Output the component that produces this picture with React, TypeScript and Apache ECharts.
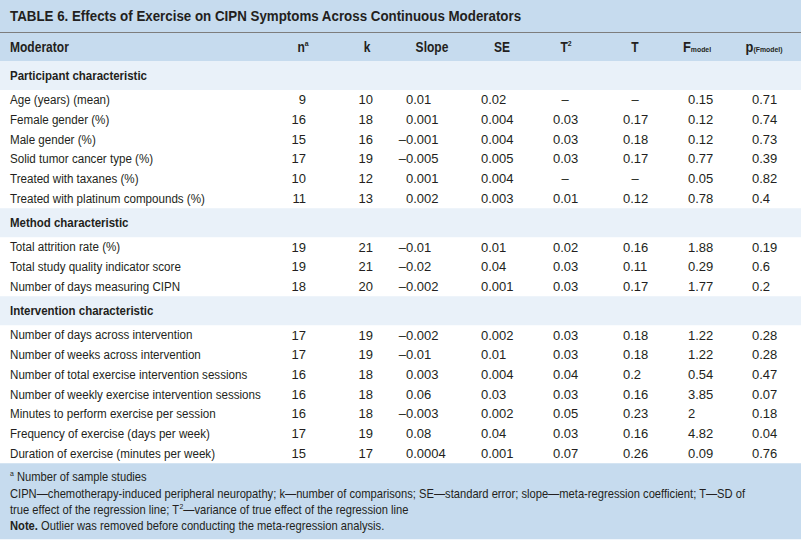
import React, { useEffect, useRef } from "react";
import * as echarts from "echarts";

const W = 801;
const H = 545;

const titleText = "TABLE 6. Effects of Exercise on CIPN Symptoms Across Continuous Moderators";
const sectionTitles = ["Participant characteristic", "Method characteristic", "Intervention characteristic"];
const sectionSizes = [6, 3, 7];
const moderators = [
  "Age (years) (mean)",
  "Female gender (%)",
  "Male gender (%)",
  "Solid tumor cancer type (%)",
  "Treated with taxanes (%)",
  "Treated with platinum compounds (%)",
  "Total attrition rate (%)",
  "Total study quality indicator score",
  "Number of days measuring CIPN",
  "Number of days across intervention",
  "Number of weeks across intervention",
  "Number of total exercise intervention sessions",
  "Number of weekly exercise intervention sessions",
  "Minutes to perform exercise per session",
  "Frequency of exercise (days per week)",
  "Duration of exercise (minutes per week)",
];
const nValues = [9, 16, 15, 17, 10, 11, 19, 19, 18, 17, 17, 16, 16, 16, 17, 15];
const kValues = [10, 18, 16, 19, 12, 13, 21, 21, 20, 19, 19, 18, 18, 18, 19, 17];
const slopeValues = ["0.01", "0.001", "–0.001", "–0.005", "0.001", "0.002", "–0.01", "–0.02", "–0.002", "–0.002", "–0.01", "0.003", "0.06", "–0.003", "0.08", "0.0004"];
const seValues = ["0.02", "0.004", "0.004", "0.005", "0.004", "0.003", "0.01", "0.04", "0.001", "0.002", "0.01", "0.004", "0.03", "0.002", "0.04", "0.001"];
const tau2Values = ["–", "0.03", "0.03", "0.03", "–", "0.01", "0.02", "0.03", "0.03", "0.03", "0.03", "0.04", "0.03", "0.05", "0.03", "0.07"];
const tauValues = ["–", "0.17", "0.18", "0.17", "–", "0.12", "0.16", "0.11", "0.17", "0.18", "0.18", "0.2", "0.16", "0.23", "0.16", "0.26"];
const fValues = ["0.15", "0.12", "0.12", "0.77", "0.05", "0.78", "1.88", "0.29", "1.77", "1.22", "1.22", "0.54", "3.85", "2", "4.82", "0.09"];
const pValues = ["0.71", "0.74", "0.73", "0.39", "0.82", "0.4", "0.19", "0.6", "0.2", "0.28", "0.28", "0.47", "0.07", "0.18", "0.04", "0.76"];
const footnotes = [
  "{sup|a} Number of sample studies",
  "CIPN—chemotherapy-induced peripheral neuropathy; k—number of comparisons; SE—standard error; slope—meta-regression coefficient; T—SD of",
  "true effect of the regression line; T{sup|2}—variance of true effect of the regression line",
  "{b|Note.} Outlier was removed before conducting the meta-regression analysis.",
];

// ---- layout / style constants ----
const FONT = '"Liberation Sans", Arial, sans-serif';
const INK = "#231f20";
const BAND = "#c6dbee";
const SECTION_BAND = "#e9f1f9";
const TITLE_H = 32;
const HEADER_TOP = 33;
const HEADER_H = 28;
const SECTION_H = 29;
const ROW_H = 19.7;
const LABEL_X = 10;
const COND = 0.86; // horizontal condensing for label text
const N_X = 306; // right aligned
const K_X = 373; // right aligned
const SLOPE_X = 406; // left aligned, minus hangs
const SE_X = 481;
const TAU2_X = 553;
const TAU_X = 623;
const F_X = 688;
const P_X = 752;
const TAU2_DASH_X = 565;
const TAU_DASH_X = 635;

type Row = { kind: "section" | "data"; idx: number; top: number; h: number };

function buildRows(): Row[] {
  const rows: Row[] = [];
  let cursor = HEADER_TOP + HEADER_H;
  let d = 0;
  sectionSizes.forEach((size, s) => {
    rows.push({ kind: "section", idx: s, top: cursor, h: SECTION_H });
    cursor += SECTION_H;
    for (let j = 0; j < size; j++) {
      rows.push({ kind: "data", idx: d++, top: cursor, h: ROW_H });
      cursor += ROW_H;
    }
  });
  return rows;
}

function txt(text: string, x: number, y: number, align: string, size: number, weight: string = "normal", sx: number = 1, rich?: any) {
  const style: any = {
    text,
    x: 0,
    y: 0,
    align,
    verticalAlign: "middle",
    fill: INK,
    fontFamily: FONT,
    fontSize: size,
    fontWeight: weight,
  };
  if (rich) style.rich = rich;
  return { type: "text", x, y, scaleX: sx, scaleY: 1, style };
}

export default function App() {
  const ref = useRef<HTMLDivElement | null>(null);

  useEffect(() => {
    document.body.style.margin = "0";
    if (!ref.current) return;
    const chart = echarts.init(ref.current, undefined, { renderer: "svg" });
    const rows = buildRows();
    const tableBottom = rows[rows.length - 1].top + rows[rows.length - 1].h;

    const renderItem = (params: any, api: any) => {
      const r = rows[params.dataIndex];
      const top = api.value(1);
      const [xL, y0] = api.coord([0, top]);
      const [xR, y1] = api.coord([W, top + r.h]);
      const cy = (y0 + y1) / 2;
      const children: any[] = [];
      if (r.kind === "section") {
        children.push({ type: "rect", shape: { x: xL, y: y0, width: xR - xL, height: y1 - y0 }, style: { fill: SECTION_BAND } });
        children.push(txt(sectionTitles[r.idx], LABEL_X, cy, "left", 13.5, "bold", 0.85));
      } else {
        const i = r.idx;
        children.push(txt(moderators[i], LABEL_X, cy, "left", 13.5, "normal", COND));
        children.push(txt(String(nValues[i]), N_X, cy, "right", 13));
        children.push(txt(String(kValues[i]), K_X, cy, "right", 13));
        const s = slopeValues[i];
        if (s.startsWith("–")) {
          children.push(txt("–", SLOPE_X, cy, "right", 13));
          children.push(txt(s.slice(1), SLOPE_X, cy, "left", 13));
        } else {
          children.push(txt(s, SLOPE_X, cy, "left", 13));
        }
        children.push(txt(seValues[i], SE_X, cy, "left", 13));
        const t2 = tau2Values[i];
        children.push(t2 === "–" ? txt(t2, TAU2_DASH_X, cy, "center", 13) : txt(t2, TAU2_X, cy, "left", 13));
        const t = tauValues[i];
        children.push(t === "–" ? txt(t, TAU_DASH_X, cy, "center", 13) : txt(t, TAU_X, cy, "left", 13));
        children.push(txt(fValues[i], F_X, cy, "left", 13));
        children.push(txt(pValues[i], P_X, cy, "left", 13));
      }
      return { type: "group", children };
    };

    const headerY = HEADER_TOP + HEADER_H / 2;
    const bold = { fontFamily: FONT, fontSize: 14, fontWeight: "bold", fill: INK, lineHeight: 16 };
    const big = { fontFamily: FONT, fontSize: 15, fontWeight: "bold", fill: INK, lineHeight: 13 };
    const supStyle = { fontFamily: FONT, fontSize: 8, fontWeight: "bold", fill: INK, verticalAlign: "top", lineHeight: 16 };
    const subStyle = { fontFamily: FONT, fontSize: 8, fontWeight: "bold", fill: INK, verticalAlign: "bottom", lineHeight: 13 };
    const head = (text: string, x: number, rich: any) => ({ ...txt(text, x, headerY, "center", 14, "bold", COND, rich), z: 2 });

    const footTop = tableBottom;
    const footH = 76;

    const graphics: any[] = [
      { type: "rect", shape: { x: 0, y: 0, width: W, height: TITLE_H }, style: { fill: BAND }, z: 0 },
      { type: "rect", shape: { x: 0, y: HEADER_TOP, width: W, height: HEADER_H }, style: { fill: BAND }, z: 0 },
      { type: "line", shape: { x1: 0, y1: 32.5, x2: W, y2: 32.5 }, style: { stroke: "#7d7d7d", lineWidth: 1 }, z: 1 },
      { ...txt(titleText, LABEL_X, TITLE_H / 2, "left", 14.5, "bold", 0.92), z: 2 },
      { ...txt("Moderator", LABEL_X, headerY, "left", 14, "bold", COND), z: 2 },
      head("{b|n}{sup|a}", 303, { b: bold, sup: supStyle }),
      head("{b|k}", 367, { b: bold }),
      head("{b|Slope}", 432, { b: bold }),
      head("{b|SE}", 502, { b: bold }),
      head("{b|T}{sup|2}", 566, { b: bold, sup: supStyle }),
      head("{b|T}", 635, { b: bold }),
      head("{b|F}{sub|model}", 697, { b: big, sub: subStyle }),
      head("{b|p}{sub|(Fmodel)}", 764, { b: big, sub: subStyle }),
      { type: "rect", shape: { x: 0, y: footTop, width: W, height: footH }, style: { fill: BAND }, z: 0 },
    ];

    const footStyle = { fontFamily: FONT, fontSize: 13, fill: INK, lineHeight: 16 };
    const footYs = [14, 31, 47, 63];
    footnotes.forEach((line, i) => {
      graphics.push({
        ...txt(line, LABEL_X, footTop + footYs[i], "left", 13, "normal", COND, {
          sup: { fontFamily: FONT, fontSize: 8, fill: INK, verticalAlign: "top", lineHeight: 16 },
          b: { ...footStyle, fontWeight: "bold" },
        }),
        z: 2,
      });
    });

    chart.setOption({
      animation: false,
      backgroundColor: "#ffffff",
      grid: { left: 0, right: 0, top: 0, bottom: 0 },
      xAxis: { type: "value", min: 0, max: W, show: false },
      yAxis: { type: "value", min: 0, max: H, inverse: true, show: false },
      graphic: graphics,
      series: [
        {
          type: "custom",
          renderItem,
          data: rows.map((r) => [0, r.top]),
          silent: true,
          clip: false,
        },
      ],
    });

    return () => chart.dispose();
  }, []);

  return <div ref={ref} style={{ width: W, height: H }} />;
}
